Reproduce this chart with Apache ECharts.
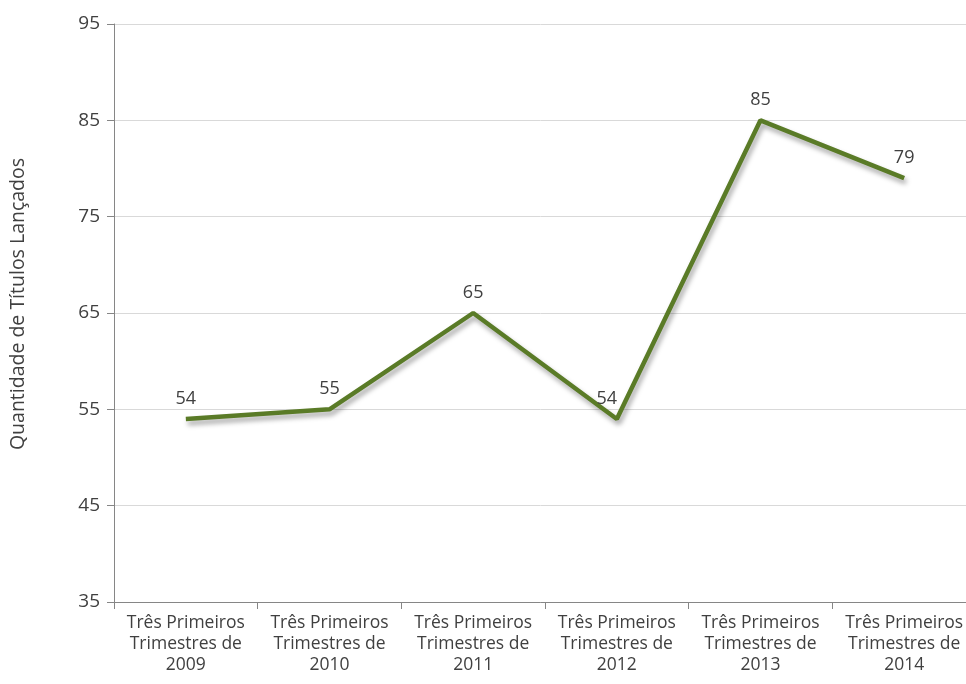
<!DOCTYPE html>
<html><head><meta charset="utf-8">
<style>html,body{margin:0;padding:0;background:#fff;}#c{width:966px;height:684px;}</style>
<script src="https://cdn.jsdelivr.net/npm/echarts@6/dist/echarts.min.js"></script>
</head><body><div id="c"></div>
<script>
const categories = ["Três Primeiros\nTrimestres de\n2009","Três Primeiros\nTrimestres de\n2010","Três Primeiros\nTrimestres de\n2011","Três Primeiros\nTrimestres de\n2012","Três Primeiros\nTrimestres de\n2013","Três Primeiros\nTrimestres de\n2014"];
const values = [54, 55, 65, 54, 85, 79];
const yName = "Quantidade de Títulos Lançados";
const font = "'Open Sans', sans-serif";
const seriesData = values.map((v, i) => i === 3 ? {value: v, label: {offset: [-10, 0]}} : v);
const chart = echarts.init(document.getElementById('c'));
chart.setOption({
  animation: false,
  grid: {left: 114, width: 862, top: 24, height: 578, outerBoundsMode: 'none', containLabel: false},
  xAxis: {
    type: 'category', data: categories, boundaryGap: true,
    axisLine: {lineStyle: {color: '#868686'}},
    axisTick: {show: true, alignWithLabel: false, length: 7, lineStyle: {color: '#868686'}},
    axisLabel: {color: '#404040', fontSize: 17.5, fontFamily: font, lineHeight: 21, margin: 11, interval: 0}
  },
  yAxis: {
    type: 'value', min: 35, max: 95, interval: 10,
    name: yName, nameLocation: 'middle', nameGap: 86, nameRotate: 90,
    nameTextStyle: {color: '#404040', fontSize: 19.5, fontFamily: font, padding: [0, 0, 0, 18]},
    axisLine: {show: true, lineStyle: {color: '#868686'}},
    axisTick: {show: true, length: 7, lineStyle: {color: '#868686'}},
    axisLabel: {color: '#404040', fontSize: 19, fontFamily: font, margin: 14},
    splitLine: {lineStyle: {color: '#d9d9d9'}}
  },
  series: [{
    type: 'line', data: seriesData, symbol: 'circle', symbolSize: 1, showSymbol: true,
    itemStyle: {color: 'rgba(0,0,0,0)'},
    lineStyle: {color: '#5a7b27', width: 4.5, shadowColor: 'rgba(0,0,0,0.35)', shadowBlur: 5, shadowOffsetX: 2, shadowOffsetY: 4},
    label: {show: true, position: 'top', distance: 11, color: '#404040', fontSize: 18, fontFamily: font}
  }]
});
</script></body></html>
